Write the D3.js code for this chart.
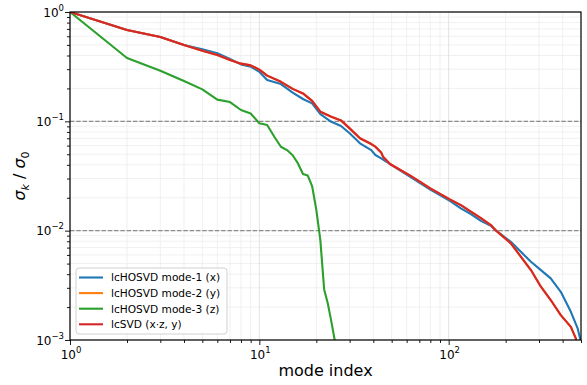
<!DOCTYPE html>
<html>
<head>
<meta charset="utf-8">
<script src="https://cdn.jsdelivr.net/npm/d3@7"></script>
<style>
  body { margin: 0; background: #fff; }
  text { font-family: "DejaVu Sans", sans-serif; fill: #000; }
</style>
</head>
<body>
<svg width="587" height="385"></svg>
<script>
// mode indices and normalised singular values
const kBlue = [1, 2, 3, 4, 5, 6, 7, 8, 9, 10, 11, 13, 15, 17, 19, 21, 24, 27, 30, 34, 39, 41, 44, 47, 49, 63, 80, 102, 116, 131, 148, 167, 177, 213, 272, 307, 346, 391, 442, 480, 500];
const mode1 = [1, 0.684, 0.59, 0.50, 0.456, 0.419, 0.372, 0.332, 0.316, 0.284, 0.239, 0.219, 0.183, 0.160, 0.146, 0.1166, 0.099, 0.0906, 0.0777, 0.0629, 0.0546, 0.0492, 0.0459, 0.0427, 0.0407, 0.0309, 0.0238, 0.0186, 0.0160, 0.0142, 0.0123, 0.0111, 0.0101, 0.0079, 0.00519, 0.00436, 0.00366, 0.00276, 0.00181, 0.00128, 0.00095];

const kRed = [1, 2, 3, 4, 5, 6, 7, 8, 9, 10, 11, 13, 15, 17, 19, 21, 24, 27, 30, 34, 39, 41, 44, 45, 49, 63, 80, 102, 116, 131, 148, 167, 177, 213, 272, 307, 346, 391, 442, 470, 480];
const lcsvd = [1, 0.684, 0.59, 0.499, 0.443, 0.404, 0.364, 0.337, 0.325, 0.297, 0.262, 0.230, 0.198, 0.180, 0.154, 0.1225, 0.110, 0.102, 0.0862, 0.070, 0.062, 0.0586, 0.052, 0.0475, 0.0407, 0.0317, 0.0244, 0.0192, 0.0171, 0.0149, 0.0130, 0.01125, 0.0101, 0.00765, 0.00436, 0.00307, 0.00232, 0.00169, 0.00132, 0.00103, 0.00088];
// mode-2 (y) has the same spectrum as lcSVD (x·z, y): hidden underneath the red line
const mode2 = lcsvd.slice();

const kGreen = [1, 2, 3, 4, 5, 6, 7, 8, 9, 10, 11, 12, 13, 14, 15, 16, 17, 18, 19, 20, 21, 22, 23, 24, 25, 26];
const mode3 = [1, 0.38, 0.29, 0.234, 0.196, 0.158, 0.150, 0.127, 0.118, 0.096, 0.0925, 0.0723, 0.0586, 0.0546, 0.049, 0.0412, 0.033, 0.032, 0.0256, 0.0155, 0.0082, 0.0029, 0.00216, 0.00148, 0.001, 0.00085];

const xMajor = [1, 10, 100];
const yMajor = [1, 0.1, 0.01, 0.001];
const yExp = ["0", "\u22121", "\u22122", "\u22123"];
const xExp = ["0", "1", "2"];
const refLines = [0.1, 0.01];

const series = [
  { name: "lcHOSVD mode-1 (x)", color: "#1f77b4", k: kBlue, v: mode1 },
  { name: "lcHOSVD mode-2 (y)", color: "#ff7f0e", k: kRed, v: mode2 },
  { name: "lcHOSVD mode-3 (z)", color: "#2ca02c", k: kGreen, v: mode3 },
  { name: "lcSVD (x\u00b7z, y)", color: "#d62728", k: kRed, v: lcsvd }
];

const margin = { left: 70, right: 581, top: 12, bottom: 340 };
const svg = d3.select("svg");

const x = d3.scaleLog().domain([1, 500]).range([margin.left, margin.right]);
const y = d3.scaleLog().domain([1e-3, 1]).range([margin.bottom, margin.top]);

// minor values
const xMinor = [];
for (let d = 1; d <= 100; d *= 10) for (let m = 2; m <= 9; m++) if (m * d <= 500) xMinor.push(m * d);
const yMinor = [];
for (let e = -3; e < 0; e++) for (let m = 2; m <= 9; m++) yMinor.push(m * Math.pow(10, e));

// grid
const grid = svg.append("g");
grid.selectAll(".gxm").data(xMinor).enter().append("line")
  .attr("x1", d => x(d)).attr("x2", d => x(d)).attr("y1", margin.top).attr("y2", margin.bottom)
  .attr("stroke", "#ececec").attr("stroke-width", 0.8);
grid.selectAll(".gym").data(yMinor).enter().append("line")
  .attr("y1", d => y(d)).attr("y2", d => y(d)).attr("x1", margin.left).attr("x2", margin.right)
  .attr("stroke", "#ececec").attr("stroke-width", 0.8);
grid.selectAll(".gx").data(xMajor).enter().append("line")
  .attr("x1", d => x(d)).attr("x2", d => x(d)).attr("y1", margin.top).attr("y2", margin.bottom)
  .attr("stroke", "#dcdcdc").attr("stroke-width", 0.8);
grid.selectAll(".gy").data(yMajor).enter().append("line")
  .attr("y1", d => y(d)).attr("y2", d => y(d)).attr("x1", margin.left).attr("x2", margin.right)
  .attr("stroke", "#dcdcdc").attr("stroke-width", 0.8);

// dashed reference lines
svg.selectAll(".ref").data(refLines).enter().append("line")
  .attr("x1", margin.left).attr("x2", margin.right)
  .attr("y1", d => y(d)).attr("y2", d => y(d))
  .attr("stroke", "#8c8c8c").attr("stroke-width", 1.2)
  .attr("stroke-dasharray", "4.4,1.9");

// curves
svg.append("clipPath").attr("id", "clip").append("rect")
  .attr("x", margin.left).attr("y", margin.top)
  .attr("width", margin.right - margin.left).attr("height", margin.bottom - margin.top);

const line = d3.line().x(d => x(d[0])).y(d => y(d[1]));
svg.append("g").attr("clip-path", "url(#clip)")
  .selectAll("path").data(series).enter().append("path")
  .attr("d", s => line(s.k.map((k, i) => [k, s.v[i]])))
  .attr("fill", "none")
  .attr("stroke", s => s.color)
  .attr("stroke-width", 2.1)
  .attr("stroke-linejoin", "round");

// axes
const xAxis = svg.append("g").attr("transform", `translate(0,${margin.bottom})`);
xAxis.call(d3.axisBottom(x).tickValues(xMajor).tickSize(5).tickFormat(""));
xAxis.append("g").call(d3.axisBottom(x).tickValues(xMinor).tickSize(3).tickFormat(""));
const yAxis = svg.append("g").attr("transform", `translate(${margin.left},0)`);
yAxis.call(d3.axisLeft(y).tickValues(yMajor).tickSize(5).tickFormat(""));
yAxis.append("g").call(d3.axisLeft(y).tickValues(yMinor).tickSize(3).tickFormat(""));
svg.selectAll(".domain").remove();
svg.selectAll(".tick line").attr("stroke", "#000").attr("stroke-width", 0.9);

// frame
svg.append("rect").attr("x", margin.left).attr("y", margin.top)
  .attr("width", margin.right - margin.left).attr("height", margin.bottom - margin.top)
  .attr("fill", "none").attr("stroke", "#000").attr("stroke-width", 1.2);

// tick labels
const xl = svg.selectAll(".xl").data(xMajor).enter().append("text")
  .attr("x", d => x(d) + 1).attr("y", 359)
  .attr("text-anchor", "middle").style("font-size", "12px");
xl.append("tspan").text("10");
xl.append("tspan").attr("dy", -6).style("font-size", "8.5px").text((d, i) => xExp[i]);

const yl = svg.selectAll(".yl").data(yMajor).enter().append("text")
  .attr("x", 64).attr("y", d => y(d) + 4.5)
  .attr("text-anchor", "end").style("font-size", "12px");
yl.append("tspan").text("10");
yl.append("tspan").attr("dy", -6).style("font-size", "8.5px").text((d, i) => yExp[i]);

// axis titles
svg.append("text").attr("x", (margin.left + margin.right) / 2).attr("y", 376)
  .attr("text-anchor", "middle").style("font-size", "16px").text("mode index");

const yt = svg.append("text")
  .attr("transform", `translate(25,${(margin.top + margin.bottom) / 2}) rotate(-90)`)
  .attr("text-anchor", "middle").style("font-size", "16px");
yt.append("tspan").style("font-style", "italic").text("\u03c3");
yt.append("tspan").attr("dy", 4).style("font-size", "11px").style("font-style", "italic").text("k");
yt.append("tspan").attr("dy", -4).text(" / ");
yt.append("tspan").style("font-style", "italic").text("\u03c3");
yt.append("tspan").attr("dy", 4).style("font-size", "11px").text("0");

// legend
const lg = svg.append("g").attr("transform", "translate(76,268)");
lg.append("rect").attr("width", 151).attr("height", 66).attr("rx", 3)
  .attr("fill", "rgba(255,255,255,0.85)").attr("stroke", "#cccccc").attr("stroke-width", 0.9);
const item = lg.selectAll(".it").data(series).enter().append("g")
  .attr("transform", (d, i) => `translate(0,${9.5 + i * 15.6})`);
item.append("line").attr("x1", 3).attr("x2", 27)
  .attr("stroke", d => d.color).attr("stroke-width", 2.1);
item.append("text").attr("x", 35).attr("y", 3.8)
  .style("font-size", "10.6px").text(d => d.name);
</script>
</body>
</html>
